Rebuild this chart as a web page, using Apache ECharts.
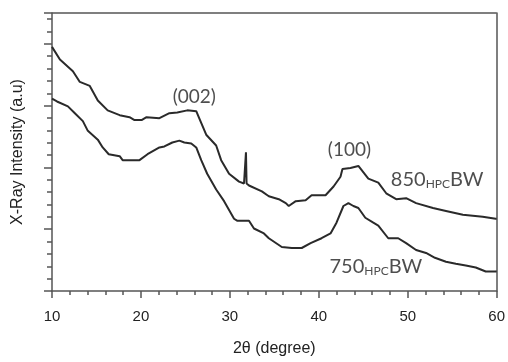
<!DOCTYPE html>
<html>
<head>
<meta charset="utf-8">
<script src="https://cdn.jsdelivr.net/npm/echarts@6/dist/echarts.min.js"></script>
<style>
  html, body { margin: 0; padding: 0; background: #fff; }
  #chart { width: 508px; height: 362px; }
</style>
</head>
<body>
<div id="chart"></div>
<script>
// 2θ (degree) values and intensities (arbitrary units)
const x850 = [10, 10.89, 12.35, 13.13, 14.25, 15.15, 16.26, 17.61, 18.72, 19.28, 20.07, 20.63, 22.08, 22.3, 23.2, 24.09, 25.21, 26.22, 26.55, 27.34, 28.46, 29.02, 29.91, 31.03, 31.59, 31.74, 31.81, 31.88, 32.15, 33.6, 34.38, 35.5, 36.29, 36.62, 37.41, 38.52, 39.19, 40.76, 41.66, 42.44, 42.66, 43.56, 44.45, 45.57, 46.69, 47.58, 48.7, 49.82, 50.94, 52.84, 54.3, 56.2, 58.43, 59.89, 60]
const y850 = [19.76, 18.74, 17.79, 16.92, 16.6, 15.42, 14.62, 14.23, 14.07, 13.83, 13.83, 14.07, 13.99, 14.07, 14.39, 14.45, 14.62, 14.55, 13.99, 12.65, 11.78, 10.59, 9.49, 8.85, 8.7, 8.7, 11.23, 8.7, 8.54, 8.06, 7.67, 7.43, 7.11, 6.88, 7.27, 7.35, 7.75, 7.75, 8.46, 9.25, 9.88, 9.96, 10.12, 9.09, 8.77, 7.91, 7.43, 7.51, 7.11, 6.72, 6.48, 6.17, 6.01, 5.85, 5.85]

const x750 = [10, 10.56, 11.79, 12.57, 13.47, 14.03, 15.15, 15.7, 16.38, 17.61, 17.94, 19.84, 20.74, 22.08, 22.64, 23.53, 24.32, 24.88, 25.66, 26.22, 26.78, 27.45, 28.46, 29.35, 30.47, 30.81, 32.15, 32.71, 33.83, 34.38, 35.84, 36.96, 38.08, 39.08, 40.31, 41.32, 41.99, 42.77, 43.33, 43.89, 44.45, 45.23, 46.13, 46.69, 47.81, 48.93, 49.82, 50.94, 52.06, 53.06, 54.3, 55.41, 56.53, 57.65, 58.77, 59.89, 60]
const y750 = [15.57, 15.34, 14.94, 14.39, 13.75, 12.96, 12.25, 11.62, 11.07, 10.91, 10.59, 10.59, 11.07, 11.62, 11.7, 12.02, 12.17, 12.02, 11.94, 11.62, 10.59, 9.49, 8.22, 7.27, 5.85, 5.69, 5.69, 5.06, 4.66, 4.27, 3.56, 3.48, 3.48, 3.87, 4.27, 4.66, 5.53, 6.88, 7.11, 6.88, 6.72, 5.93, 5.53, 5.3, 4.27, 4.27, 3.87, 3.32, 3.08, 2.69, 2.37, 2.21, 2.06, 1.9, 1.58, 1.58, 1.6]

// peak annotations (centered) and sample labels (left aligned)
const peakNames = ['(002)', '(100)']
const peakPos = [[26.0, 15.7], [43.45, 11.4]]
const sampleNames = ['850', '750']
const samplePos = [[48.1, 9.0], [41.2, 1.98]]

const xMin = 10
const xMax = 60
const yMax = 22.5

const chart = echarts.init(document.getElementById('chart'))

const lineColor = '#2a2a2a'
const axisColor = '#555'
const textColor = '#222'
const axisFont = 'Liberation Sans, Arial, sans-serif'
const labelFont = 'Lato, Open Sans, sans-serif'

const zip = (xs, ys) => xs.map((v, i) => [v, ys[i]])

const frameLine = { show: true, onZero: false, lineStyle: { color: axisColor, width: 1.5 } }
const noMarks = { axisTick: { show: false }, axisLabel: { show: false }, splitLine: { show: false } }

chart.setOption({
  animation: false,
  grid: { left: 52, right: 9, top: 13, bottom: 65 },
  xAxis: {
    type: 'value', min: xMin, max: xMax, interval: 10, position: 'bottom',
    name: '2θ (degree)', nameLocation: 'middle', nameGap: 50,
    nameTextStyle: { color: textColor, fontSize: 16, fontFamily: axisFont },
    axisLine: frameLine,
    axisTick: { length: 7, lineStyle: { color: axisColor, width: 1.5 } },
    minorTick: { show: true, splitNumber: 5, length: 4, lineStyle: { color: axisColor, width: 1.5 } },
    axisLabel: { color: textColor, fontSize: 15, fontFamily: axisFont, margin: 18 },
    splitLine: { show: false },
  },
  yAxis: [{
    type: 'value', min: 0, max: yMax, interval: 1, position: 'left',
    name: 'X-Ray Intensity (a.u)', nameLocation: 'middle', nameGap: 26,
    nameTextStyle: { color: textColor, fontSize: 16, fontFamily: axisFont },
    axisLine: frameLine,
    axisTick: { length: 5, lineStyle: { color: axisColor, width: 1.5 } },
    axisLabel: { show: false },
    splitLine: { show: false },
  }, {
    type: 'value', min: 0, max: yMax, interval: 5, position: 'left', offset: 0,
    axisLine: { show: false },
    axisTick: { length: 8, lineStyle: { color: axisColor, width: 1.5 } },
    axisLabel: { show: false },
    splitLine: { show: false },
  }, {
    // right side of the frame
    type: 'value', min: 0, max: yMax, position: 'right',
    axisLine: frameLine, ...noMarks,
  }],
  series: [{
    // top side of the frame
    type: 'line', data: [[xMin, yMax], [xMax, yMax]], clip: false, silent: true,
    symbol: 'none', lineStyle: { color: axisColor, width: 1.5 }, z: 1,
  }, {
    name: '850HPCBW', type: 'line', data: zip(x850, y850), clip: false,
    symbol: 'none', lineStyle: { color: lineColor, width: 2 },
  }, {
    name: '750HPCBW', type: 'line', data: zip(x750, y750), clip: false,
    symbol: 'none', lineStyle: { color: lineColor, width: 2 },
  }, {
    type: 'scatter', symbolSize: 0, silent: true,
    data: peakPos.map((p, i) => ({ value: p, name: peakNames[i] })),
    label: {
      show: true, position: 'inside', formatter: '{b}',
      color: textColor, fontSize: 19, fontFamily: labelFont,
    },
  }, {
    type: 'scatter', symbolSize: 0, silent: true,
    data: samplePos.map((p, i) => ({ value: p, name: sampleNames[i] })),
    label: {
      show: true, position: 'right', distance: 0,
      formatter: (p) => `{n|${p.name}}{s|HPC}{n|BW}`,
      rich: {
        n: { color: textColor, fontSize: 20, fontFamily: labelFont, lineHeight: 22 },
        s: { color: textColor, fontSize: 12, fontFamily: labelFont, lineHeight: 22, padding: [9, 0, 0, 0] },
      },
    },
  }],
})
</script>
</body>
</html>
